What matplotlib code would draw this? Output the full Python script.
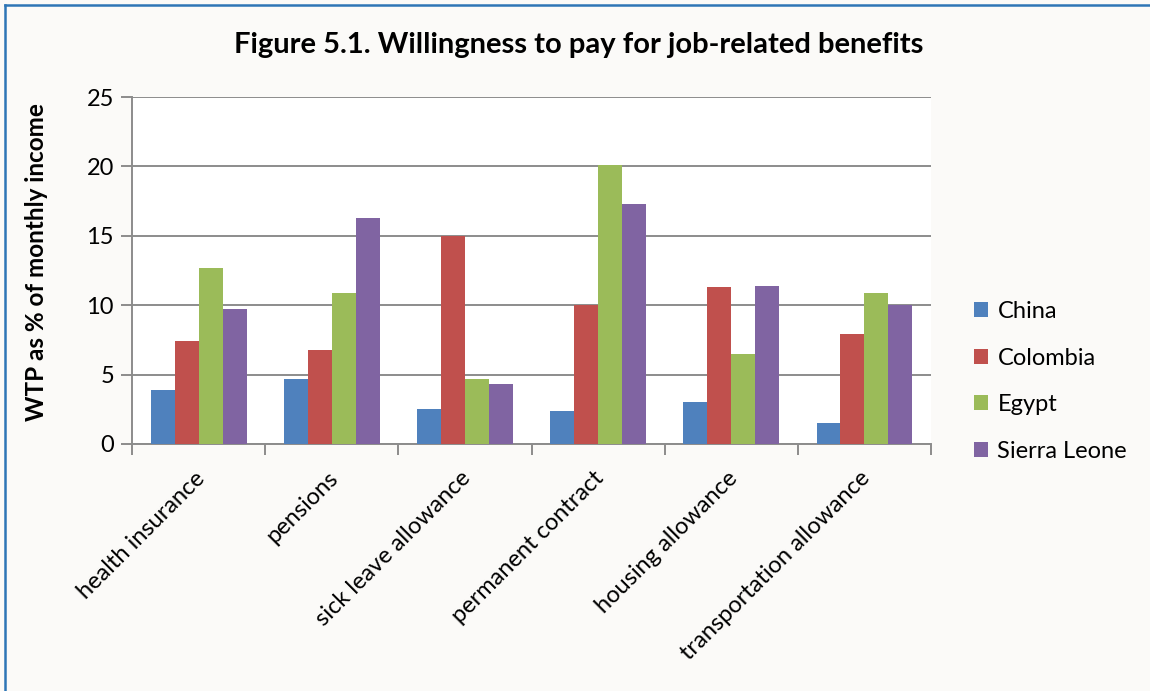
import numpy as np
import matplotlib
matplotlib.use("Agg")
import matplotlib.pyplot as plt
from matplotlib.lines import Line2D
from matplotlib.transforms import ScaledTranslation

matplotlib.rcParams['font.family'] = ['Lato', 'DejaVu Sans']

benefits = ["health insurance", "pensions", "sick leave allowance",
            "permanent contract", "housing allowance", "transportation allowance"]
countries = ["China", "Colombia", "Egypt", "Sierra Leone"]
china = [3.9, 4.7, 2.5, 2.4, 3.0, 1.5]
colombia = [7.4, 6.8, 15.0, 10.0, 11.3, 7.9]
egypt = [12.7, 10.9, 4.7, 20.1, 6.5, 10.9]
sierra_leone = [9.7, 16.3, 4.3, 17.3, 11.4, 10.0]
colors = ["#4F81BD", "#C0504D", "#9BBB59", "#8064A2"]

fig = plt.figure(figsize=(11.5, 6.91), dpi=100, facecolor="#FBFAF8")
ax = fig.add_axes([0.1148, 0.3575, 0.6948, 0.5021])
ax.set_facecolor("white")

x = np.arange(len(benefits))
w = 0.18
for i, (vals, c, name) in enumerate(zip([china, colombia, egypt, sierra_leone], colors, countries)):
    ax.bar(x + (i - 1.5) * w, vals, width=w, color=c, label=name, zorder=3)

ax.set_xlim(-0.5, len(benefits) - 0.5)
ax.set_ylim(0, 25)
ax.set_yticks([0, 5, 10, 15, 20, 25])
ax.yaxis.grid(True, color="#8C8C8C", linewidth=1.4, zorder=0)

# boundaries get the tick marks, centres get the labels
ax.set_xticks(np.arange(-0.5, len(benefits)), labels=[])
ax.set_xticks(x, labels=benefits, minor=True)
ax.tick_params(axis="x", which="major", length=8, width=1.4, color="#8C8C8C")
ax.tick_params(axis="x", which="minor", length=0, labelsize=17, pad=17)
shift = ScaledTranslation(-5 / 100, 0, fig.dpi_scale_trans)
for lbl in ax.get_xticklabels(minor=True):
    lbl.set_rotation(45)
    lbl.set_ha("right")
    lbl.set_rotation_mode("anchor")
    lbl.set_transform(lbl.get_transform() + shift)
ax.tick_params(axis="y", length=8, width=1.4, color="#8C8C8C", labelsize=17, pad=5)

for s in ["top", "right"]:
    ax.spines[s].set_visible(False)
for s in ["left", "bottom"]:
    ax.spines[s].set_color("#8C8C8C")
    ax.spines[s].set_linewidth(1.4)

fig.text(0.503, 1 - 45 / 691, "Figure 5.1. Willingness to pay for job-related benefits",
         ha="center", va="center", fontsize=21, fontweight="bold")
fig.text(37 / 1150, 1 - 262 / 691, "WTP as % of monthly income", rotation=90,
         ha="center", va="center", fontsize=17.5, fontweight="bold")

ax.legend(loc="center left", bbox_to_anchor=(1.027, 0.18), frameon=False,
          fontsize=17, handlelength=0.6, handleheight=0.6, handletextpad=0.4,
          labelspacing=1.08)

# outer frame line on the left and top edges
fig.add_artist(Line2D([5 / 1150, 5 / 1150], [0, 1 - 5 / 691], color="#2E75B6", linewidth=1.8))
fig.add_artist(Line2D([5 / 1150, 1], [1 - 5 / 691, 1 - 5 / 691], color="#2E75B6", linewidth=1.8))

fig.savefig("out.png", dpi=100, facecolor=fig.get_facecolor())
